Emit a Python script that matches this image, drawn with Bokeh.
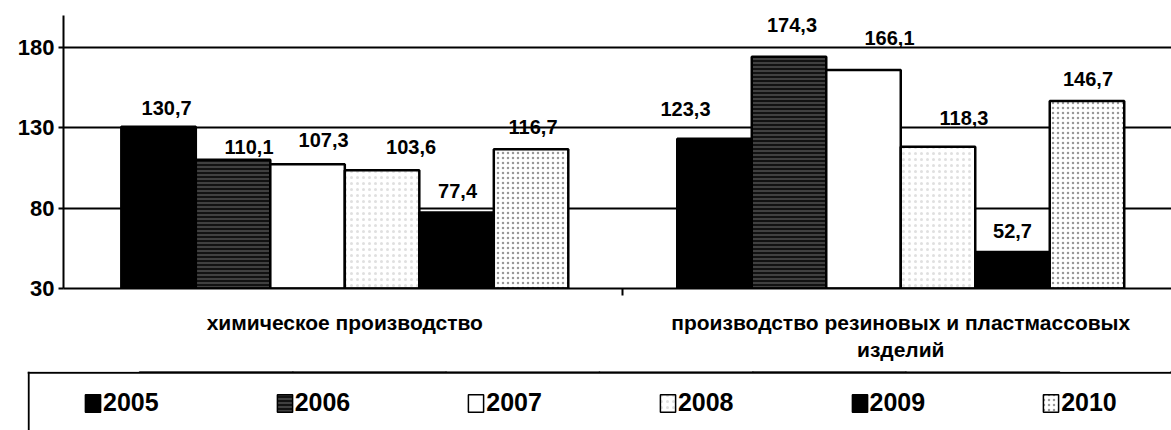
from bokeh.plotting import figure
from bokeh.models import ColumnDataSource, Range1d, FixedTicker, Legend, LegendItem, Span
from bokeh.layouts import column
from bokeh.core.properties import value
from bokeh.embed import file_html
from bokeh.resources import INLINE

# ---------------- data ----------------
categories = ["химическое производство",
              "производство резиновых и пластмассовых\nизделий"]
years = ["2005", "2006", "2007", "2008", "2009", "2010"]
chem = [130.7, 110.1, 107.3, 103.6, 77.4, 116.7]
rubber = [123.3, 174.3, 166.1, 118.3, 52.7, 146.7]
y_ticks = [30, 80, 130, 180]
y_min, y_max = 30, 200

# label nudges (px) as placed in the original
label_dx = [[8, 16, 16, 29, 1, 2], [-29, 3, 26, 26, 0, 1]]
label_dy = [[19, 13, 24, 23, 21, 22], [30, 32, 32, 29, 21, 22]]

series = [chem, rubber]

FONT = "Liberation Sans"
styles = [
    dict(fill_color="black", line_color="black"),
    dict(fill_color="#121212", line_color="black", hatch_pattern="horizontal_line",
         hatch_color="white", hatch_alpha=0.38, hatch_scale=4, hatch_weight=1),
    dict(fill_color="white", line_color="black"),
    dict(fill_color="white", line_color="black", hatch_pattern="dot",
         hatch_color="black", hatch_alpha=0.12, hatch_scale=6, hatch_weight=1),
    dict(fill_color="black", line_color="black"),
    dict(fill_color="white", line_color="black", hatch_pattern="dot",
         hatch_color="#444444", hatch_alpha=0.55, hatch_scale=5, hatch_weight=1),
]

W, H1, H2 = 1171, 365, 65
BAR_W = 0.134
n_years = len(years)
centers = [k + 0.5 for k in range(len(categories))]

p = figure(width=W, height=H1, output_backend="svg", toolbar_location=None,
           x_range=Range1d(-0.006, 1.987), y_range=Range1d(y_min, y_max),
           min_border_left=63, min_border_right=0, min_border_top=15,
           min_border_bottom=H1 - 288)
p.frame_align = False
p.outline_line_color = None
p.background_fill_color = "white"
p.border_fill_color = "white"

# bars
sources = []
for i, yr in enumerate(years):
    off = (i - (n_years - 1) / 2) * BAR_W
    src = ColumnDataSource(dict(x=[c + off for c in centers],
                                top=[s[i] for s in series]))
    sources.append(src)
    p.vbar(x="x", top="top", bottom=y_min, width=BAR_W, source=src,
           line_width=2.5, **styles[i])

# value labels
lx, ly, lt, ldx, ldy = [], [], [], [], []
for k, s in enumerate(series):
    for i, v in enumerate(s):
        off = (i - (n_years - 1) / 2) * BAR_W
        lx.append(centers[k] + off)
        ly.append(v)
        lt.append(f"{v:.1f}".replace(".", ","))
        ldx.append(label_dx[k][i])
        ldy.append(-label_dy[k][i])
lsrc = ColumnDataSource(dict(x=lx, y=ly, t=lt, dx=ldx, dy=ldy))
p.text(x="x", y="y", text="t", x_offset="dx", y_offset="dy", source=lsrc,
       text_align="center", text_baseline="middle", text_font=value(FONT),
       text_font_style="bold", text_font_size="20px", text_color="black")

# y axis
p.yaxis.ticker = FixedTicker(ticks=y_ticks)
p.yaxis.axis_line_color = "black"
p.yaxis.axis_line_width = 2
p.yaxis.major_tick_out = 5
p.yaxis.major_tick_in = 0
p.yaxis.major_tick_line_width = 2
p.yaxis.minor_tick_line_color = None
p.yaxis.major_label_text_font = FONT
p.yaxis.major_label_text_font_style = "bold"
p.yaxis.major_label_text_font_size = "22px"
p.yaxis.major_label_text_color = "black"
p.yaxis.major_label_standoff = 4

p.ygrid.ticker = FixedTicker(ticks=y_ticks)
p.ygrid.grid_line_color = "black"
p.ygrid.grid_line_width = 2
p.xgrid.grid_line_color = None

# x axis (categories)
p.xaxis.ticker = FixedTicker(ticks=centers,
                             minor_ticks=[k for k in range(1, len(categories))])
p.xaxis.major_label_overrides = {c: name for c, name in zip(centers, categories)}
p.xaxis.axis_line_color = "black"
p.xaxis.axis_line_width = 2
p.xaxis.major_tick_line_color = None
p.xaxis.major_tick_out = 0
p.xaxis.major_tick_in = 0
p.xaxis.minor_tick_line_color = "black"
p.xaxis.minor_tick_line_width = 2
p.xaxis.minor_tick_out = 7
p.xaxis.minor_tick_in = 0
p.xaxis.major_label_text_font = FONT
p.xaxis.major_label_text_font_style = "bold"
p.xaxis.major_label_text_font_size = "21px"
p.xaxis.major_label_text_color = "black"
p.xaxis.major_label_standoff = 15

# ---------------- legend strip (boxed, below the chart) ----------------
p2 = figure(width=W, height=H2, output_backend="svg", toolbar_location=None,
            x_range=Range1d(0, 1), y_range=Range1d(0, 1.02),
            min_border_left=27, min_border_right=0, min_border_top=H2 - 59,
            min_border_bottom=0)
p2.frame_align = False
p2.axis.visible = False
p2.grid.visible = False
p2.outline_line_color = None
p2.background_fill_color = "white"
p2.border_fill_color = "white"
p2.add_layout(Span(location=1.0, dimension="width", line_color="black", line_width=2))
p2.add_layout(Span(location=0.001, dimension="height", line_color="black", line_width=2))

items = []
for i, yr in enumerate(years):
    # same bar data; they fall outside this strip's range, only the legend glyph shows
    r = p2.vbar(x="x", top="top", bottom=y_min, width=BAR_W, source=sources[i],
                line_width=1.5, **styles[i])
    items.append(LegendItem(label=yr, renderers=[r]))
leg = Legend(items=items, orientation="horizontal", location=(56, 13),
             spacing=116, glyph_width=19, glyph_height=22, label_standoff=1,
             label_text_font=FONT, label_text_font_style="bold",
             label_text_font_size="25px", label_text_color="black",
             padding=0, margin=0, border_line_color=None,
             background_fill_alpha=0)
p2.add_layout(leg, "center")

layout = column(p, p2, spacing=0)
open("out.html", "w").write(file_html(layout, INLINE))
